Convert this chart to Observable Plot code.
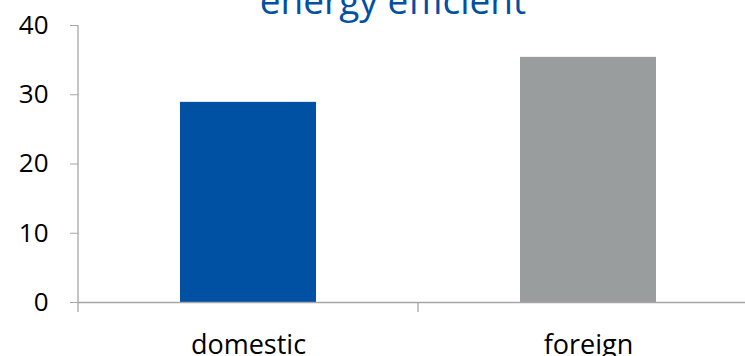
<!DOCTYPE html>
<html>
<head>
<meta charset="utf-8">
<script src="https://cdn.jsdelivr.net/npm/d3@7"></script>
<script src="https://cdn.jsdelivr.net/npm/@observablehq/plot@0.6"></script>
<style>
  html, body { margin: 0; padding: 0; background: #fff; overflow: hidden; }
  #chart svg { display: block; }
</style>
</head>
<body>
<div id="chart"></div>
<script>
// Share of households rating their appliances "energy efficient"
const title = "energy efficient";
const categories = ["domestic", "foreign"];
const values = [28.9, 35.4];
const barColors = ["#0050A4", "#9A9D9D"];
const yTicks = [0, 10, 20, 30, 40];

const data = categories.map((c, i) => ({category: c, value: values[i], color: barColors[i]}));

const axisGray = "#a6a6a6";
const font = "'Open Sans', sans-serif";

const plot = Plot.plot({
  width: 745,
  height: 356,
  marginLeft: 78,
  marginRight: 0,
  marginTop: 25,
  marginBottom: 54,
  style: {fontFamily: font, background: "#fff", overflow: "visible"},
  x: {domain: categories, range: [78, 758], paddingInner: 0.6, paddingOuter: 0.3},
  y: {domain: [0, 40]},
  marks: [
    Plot.barY(data, {x: "category", y: "value", fill: "color"}),
    Plot.ruleY([0], {stroke: axisGray, strokeWidth: 1.3}),
    Plot.axisY({
      ticks: yTicks, tickSize: 8, tickPadding: 22, fontSize: 26,
      stroke: axisGray, fill: "#000", label: null, tickFormat: d3.format("d")
    }),
    Plot.axisX({tickSize: 0, tickPadding: 32, fontSize: 27, fill: "#000", label: null})
  ]
});

document.getElementById("chart").append(plot);

const x = plot.scale("x");
const y = plot.scale("y");
const step = x.step;
const y0 = y.apply(0);
const svg = d3.select(plot);

// Vertical value axis line along the left edge of the plot area
svg.append("line")
  .attr("x1", x.range[0]).attr("x2", x.range[0])
  .attr("y1", y.apply(yTicks[yTicks.length - 1])).attr("y2", y0)
  .attr("stroke", axisGray).attr("stroke-width", 1.3);

// Category boundary ticks below the baseline, placed with the band scale
const bounds = categories.map(c => x.apply(c) - step * x.paddingOuter);
svg.append("g")
  .selectAll("line")
  .data(bounds)
  .join("line")
  .attr("x1", d => d).attr("x2", d => d)
  .attr("y1", y0).attr("y2", y0 + 10)
  .attr("stroke", axisGray).attr("stroke-width", 1.3);

// Title, partly above the top edge
svg.append("text")
  .attr("x", 393)
  .attr("y", 14)
  .attr("text-anchor", "middle")
  .attr("fill", "#0050A4")
  .attr("font-family", font)
  .attr("font-size", 37)
  .text(title);
</script>
</body>
</html>
